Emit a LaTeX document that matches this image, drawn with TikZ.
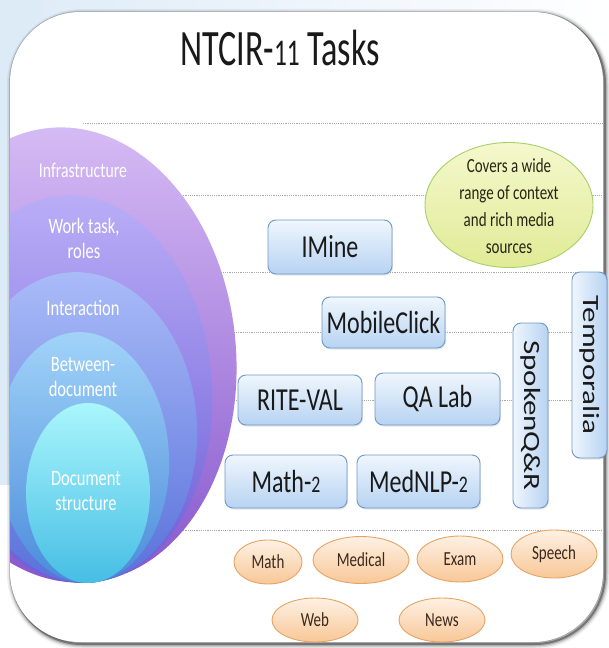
\documentclass[tikz,border=0pt]{standalone}
\usepackage{fontspec}
\usepackage{graphicx}
\setmainfont{Carlito}
\usetikzlibrary{shapes.geometric,shadows}
\definecolor{bgblue}{HTML}{DDEBF7}
\definecolor{boxtop}{HTML}{EFF6FD}
\definecolor{boxbot}{HTML}{B7D3F2}
\definecolor{boxborder}{HTML}{7098C6}
\definecolor{or1}{HTML}{FEF1E4}
\definecolor{or2}{HTML}{F8C797}
\definecolor{orborder}{HTML}{E6A464}
\definecolor{gr1}{HTML}{F4F8CC}
\definecolor{gr2}{HTML}{E0EB96}
\definecolor{grborder}{HTML}{A6D06A}
\definecolor{guidegray}{HTML}{A8A8A8}
\definecolor{txtbrown}{HTML}{3A2A1C}
\definecolor{txtdark}{HTML}{262614}
\definecolor{e1a}{HTML}{D6BCF5}
\definecolor{e1b}{HTML}{C3A0EE}
\definecolor{e1c}{HTML}{8656CC}
\definecolor{e2a}{HTML}{BBAEF7}
\definecolor{e2b}{HTML}{A596F0}
\definecolor{e2c}{HTML}{6A5CD6}
\definecolor{e3a}{HTML}{AABCF8}
\definecolor{e3b}{HTML}{95A8F2}
\definecolor{e3c}{HTML}{5870DA}
\definecolor{e4a}{HTML}{A2D4F9}
\definecolor{e4b}{HTML}{88BCF2}
\definecolor{e4c}{HTML}{4A8ADA}
\definecolor{e5a}{HTML}{AAF6FC}
\definecolor{e5b}{HTML}{7EE0F4}
\definecolor{e5c}{HTML}{46BEE4}
\newcommand{\hx}[1]{\scalebox{0.75}[1]{#1}}
\newcommand{\vx}[1]{\scalebox{1}[0.75]{#1}}
\newcommand{\osf}[1]{\scalebox{0.74}{#1}}
\begin{document}
\begin{tikzpicture}[x=1pt,y=-1pt,
  taskbox/.style={draw=boxborder, line width=0.9pt, rounded corners=8pt,
    top color=boxtop, bottom color=boxbot, text=black!90,
    font=\fontsize{32}{36}\selectfont, inner sep=0pt,
    drop shadow={shadow xshift=1pt, shadow yshift=-1.5pt, opacity=0.2}},
  vbox/.style={taskbox, rotate=-90, font=\fontsize{31}{34}\selectfont,
    left color=boxtop, right color=boxbot},
  topic/.style={ellipse, draw=orborder, line width=0.9pt, top color=or1,
    bottom color=or2, text=txtbrown, font=\fontsize{20}{22}\selectfont, inner sep=0pt},
  layertxt/.style={text=white, align=center, font=\fontsize{22}{25}\selectfont},
  guide/.style={draw=guidegray, line width=0.7pt, dash pattern=on 1.2pt off 1pt}]
\useasboundingbox (0,0) rectangle (608,648);
% background
\fill[white] (0,0) rectangle (608,648);
\shade[left color=bgblue, right color=white] (0,0) rectangle (608,40);
\fill[bgblue] (0,0) rectangle (40,485);
% card shadow and card
\foreach \w/\o in {10/0.06,7/0.1,4.5/0.16,2/0.35}{
  \draw[black, opacity=\o, line width=\w pt, rounded corners=70pt] (12,14) rectangle (605,644);}
\draw[black, opacity=0.15, line width=1.5pt, rounded corners=70pt] (10,12) rectangle (603,642);
\fill[white, rounded corners=70pt] (10,12) rectangle (603,642);
% guide lines
\draw[guide] (83,123) -- (603,123);
\draw[guide] (60,195) -- (603,195);
\draw[guide] (60,272) -- (603,272);
\draw[guide] (60,332) -- (603,332);
\draw[guide] (60,400) -- (603,400);
\draw[guide] (60,530) -- (603,530);
% nested layers
\begin{scope}
\clip[rounded corners=70pt] (10,12) rectangle (603,642);
\shade[top color=e1a, middle color=e1b, bottom color=e1c, rotate around={5:(70,355)}]
  (70,355) ellipse [x radius=166pt, y radius=228pt];
\shade[top color=e2a, middle color=e2b, bottom color=e2c, rotate around={4:(76,389)}]
  (76,389) ellipse [x radius=136pt, y radius=194pt];
\shade[top color=e3a, middle color=e3b, bottom color=e3c, rotate around={3.5:(80,427.5)}]
  (80,427.5) ellipse [x radius=117pt, y radius=155.5pt];
\shade[top color=e4a, middle color=e4b, bottom color=e4c, rotate around={3:(83,457.5)}]
  (83,457.5) ellipse [x radius=86pt, y radius=125.5pt];
\shade[top color=e5a, middle color=e5b, bottom color=e5c]
  (88,493) ellipse [x radius=62pt, y radius=90pt];
\end{scope}
\node[layertxt, font=\fontsize{21}{25}\selectfont] (infra) at (83,170) {\hx{Infrastructure}};
\node[layertxt] (work) at (84,238) {\hx{Work task,}\\\hx{roles}};
\node[layertxt] (inter) at (83,308) {\hx{Interaction}};
\node[layertxt] (between) at (83,377) {\hx{Between-}\\\hx{document}};
\node[layertxt] (docstruct) at (86,491) {\hx{Document}\\\hx{structure}};
% title
\node[font=\fontsize{51}{56}\selectfont, anchor=base, text=black!90] (title) at (280,65)
  {\scalebox{0.67}[1]{NTCIR-\osf{11} Tasks}};
% green note
\node[ellipse, draw=grborder, line width=0.9pt, top color=gr1, bottom color=gr2,
  minimum width=168pt, minimum height=125pt] (covers) at (509,205) {};
\node[align=center, font=\fontsize{20}{27}\selectfont, text=txtdark] (coverstxt) at (509,206)
  {\hx{Covers a wide}\\\hx{range of context}\\\hx{and rich media}\\\hx{sources}};
% task boxes
\node[taskbox, minimum width=124pt, minimum height=54pt] (imine) at (330,247) {\hx{IMine}};
\node[taskbox, minimum width=123pt, minimum height=51pt] (mobile) at (383.5,322.5) {\hx{MobileClick}};
\node[taskbox, minimum width=124pt, minimum height=50pt] (rite) at (300,400) {\hx{RITE-VAL}};
\node[taskbox, minimum width=125pt, minimum height=52pt] (qalab) at (437.5,399) {\hx{QA Lab}};
\node[taskbox, minimum width=122pt, minimum height=53pt] (math2) at (286,481.5) {\hx{Math-\osf{2}}};
\node[taskbox, minimum width=123pt, minimum height=53pt] (mednlp) at (418.5,481.5) {\hx{MedNLP-\osf{2}}};
\node[vbox, minimum width=185pt, minimum height=35pt] (spoken) at (530.5,415.5) {\vx{SpokenQ\&R}};
\node[vbox, minimum width=186pt, minimum height=35pt] (temporalia) at (589.5,365) {\vx{Temporalia}};
% topic ellipses
\node[topic, minimum width=68pt, minimum height=44pt] (math) at (268,562) {\hx{Math}};
\node[topic, minimum width=96pt, minimum height=47pt] (medical) at (361,560) {\hx{Medical}};
\node[topic, minimum width=86pt, minimum height=46pt] (exam) at (460,559) {\hx{Exam}};
\node[topic, minimum width=86pt, minimum height=48pt] (speech) at (554,554) {\hx{Speech}};
\node[topic, minimum width=86pt, minimum height=44pt] (web) at (315,620) {\hx{Web}};
\node[topic, minimum width=86pt, minimum height=44pt] (news) at (442,620) {\hx{News}};
\end{tikzpicture}
\end{document}
